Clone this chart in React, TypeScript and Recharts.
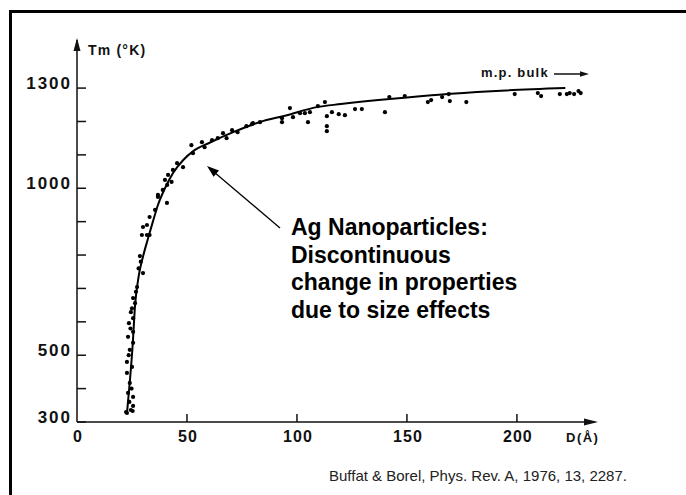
import { ComposedChart, Line, Scatter, XAxis, YAxis } from 'recharts';

// fitted curve (D in Å, Tm in K)
const curveD = [22.7, 24, 25.3, 26.4, 28, 30, 32.3, 34.5, 36.8, 40, 43.6, 48.2, 53, 60.5, 71, 83, 95, 109, 120, 137, 150, 170, 195, 222];
const curveT = [325, 420, 530, 650, 735, 795, 850, 900, 950, 1000, 1045, 1084, 1112, 1137, 1168, 1198, 1218, 1243, 1252, 1264, 1272, 1283, 1293, 1300];

// measured points
const pointD = [
  22.3, 24.5, 25.5, 23.2, 25.5, 24, 22.7, 25, 22.7, 24, 25.5, 23.2, 25.5, 23.6, 25.5, 24.5, 26.4, 22.7, 25.3, 23.8, 24.8, 23.5, 24.3, 25,
  25.5, 27.3, 28.6, 30, 29.5, 31.8, 33, 31.8, 33, 35.5, 36.8, 40.9, 39, 41, 43, 30, 26.8, 28, 29,
  36.8, 40, 41.4, 43.6, 45.5, 48.2, 52, 52.7, 56.8, 58, 61.4, 64, 66.4, 68, 70.5, 73, 77, 80,
  79.5, 83.2, 93.2, 93.2, 96.8, 98.2, 101.4, 103.6, 105, 105.9, 109.5, 112.7, 113.6, 113.6, 113.6, 115.9, 119, 121.8, 126.4, 129.5,
  140, 142, 149, 159.5, 161, 166, 169, 169.5, 177, 199, 209.5, 211, 219.5, 222.7, 224, 226, 228, 229,
];
const pointT = [
  330, 336, 348, 387, 375, 417, 447, 465, 480, 516, 537, 555, 570, 596, 611, 629, 656, 327, 333, 360, 400, 500, 580, 640,
  671, 704, 797, 746, 860, 860, 860, 890, 914, 935, 974, 956, 995, 1010, 1019, 884, 690, 760, 780,
  980, 1025, 1040, 1055, 1075, 1063, 1129, 1105, 1138, 1123, 1144, 1150, 1165, 1150, 1174, 1168, 1186, 1195,
  1192, 1198, 1198, 1210, 1240, 1213, 1225, 1225, 1198, 1228, 1246, 1258, 1216, 1186, 1171, 1228, 1222, 1219, 1237, 1237,
  1228, 1273, 1276, 1258, 1264, 1273, 1282, 1261, 1258, 1282, 1285, 1276, 1282, 1282, 1285, 1282, 1291, 1285,
];

const yTicks = [300, 400, 500, 600, 700, 800, 900, 1000, 1100, 1200, 1300];
const yLabels = [300, 500, 1000, 1300];
const xTicks = [0, 50, 100, 150, 200];

const curve = curveD.map((d, i) => ({ d, t: curveT[i] }));
const points = pointD.map((d, i) => ({ d, t: pointT[i] }));

const FONT = '"Liberation Sans", Arial, sans-serif';
const INK = '#111';

// plot box: margin + axis size
const M = { top: 40, right: 91, bottom: 43, left: 17 };
const Y_W = 60;
const X_H = 30;
const AXIS_X = M.left + Y_W;
const AXIS_Y = 495 - M.bottom - X_H;

function YTick(props: any) {
  const { y, payload } = props;
  return (
    <g>
      <line x1={AXIS_X} x2={AXIS_X + 9} y1={y} y2={y} stroke={INK} strokeWidth={1.5} />
      {yLabels.includes(payload.value) && (
        <text x={AXIS_X - 5} y={y + 1} textAnchor="end" fontFamily={FONT} fontWeight="bold" fontSize={17} letterSpacing={2} fill={INK}>
          {payload.value}
        </text>
      )}
    </g>
  );
}

function XTick(props: any) {
  const { x, payload } = props;
  return (
    <g>
      {payload.value !== 0 && <line x1={x} x2={x} y1={AXIS_Y} y2={AXIS_Y - 8} stroke={INK} strokeWidth={1.5} />}
      <text x={x + 1} y={AXIS_Y + 20} textAnchor="middle" fontFamily={FONT} fontWeight="bold" fontSize={16} letterSpacing={1} fill={INK}>
        {payload.value}
      </text>
    </g>
  );
}

const dot = (p: any) => <circle cx={p.cx} cy={p.cy} r={2.1} fill="#000" />;

export default function App() {
  return (
    <div style={{ position: 'absolute', left: 0, top: 0, width: 686, height: 495, overflow: 'hidden', background: '#fff' }}>
      <div style={{ position: 'absolute', left: 9, top: 10, width: 720, height: 520, borderLeft: '3px solid #000', borderTop: '3px solid #000' }} />
      <ComposedChart width={686} height={495} margin={M} style={{ position: 'absolute', left: 0, top: 0 }}>
        <XAxis
          type="number"
          dataKey="d"
          domain={[0, 235.5]}
          ticks={xTicks}
          height={X_H}
          tickSize={0}
          tickMargin={0}
          tick={XTick}
          axisLine={{ stroke: INK, strokeWidth: 1.5 }}
          allowDataOverflow
        />
        <YAxis
          type="number"
          dataKey="t"
          domain={[300, 1444]}
          ticks={yTicks}
          width={Y_W}
          tickSize={0}
          tickMargin={0}
          tick={YTick}
          interval={0}
          axisLine={{ stroke: INK, strokeWidth: 1.5 }}
          allowDataOverflow
        />
        <Scatter data={points} dataKey="t" shape={dot} isAnimationActive={false} />
        <Line data={curve} dataKey="t" type="monotone" stroke="#000" strokeWidth={2} dot={false} isAnimationActive={false} />
      </ComposedChart>
      <svg width={686} height={495} style={{ position: 'absolute', left: 0, top: 0, pointerEvents: 'none' }}>
        <polygon points="77,38 73.5,51 80.5,51" fill={INK} />
        <polygon points="598,422 584,418.5 584,425.5" fill={INK} />
        <text x={88} y={55} fontFamily={FONT} fontWeight="bold" fontSize={14} letterSpacing={1.2} fill={INK}>Tm (°K)</text>
        <text x={481} y={77} fontFamily={FONT} fontWeight="bold" fontSize={13} letterSpacing={1.2} fill={INK}>m.p. bulk</text>
        <line x1={554} x2={582} y1={74} y2={74} stroke={INK} strokeWidth={1.5} />
        <polygon points="589,74 580,71.3 580,76.7" fill={INK} />
        <text x={566} y={442} fontFamily={FONT} fontWeight="bold" fontSize={13} letterSpacing={1.5} fill={INK}>D(Å)</text>
        <line x1={280} y1={228} x2={214} y2={172} stroke="#000" strokeWidth={1.3} />
        <polygon points="207,166 219,170.6 213.6,176.8" fill="#000" />
        <g fontFamily={FONT} fontWeight="bold" fontSize={23} fill="#000">
          <text x={291} y={235}>Ag Nanoparticles:</text>
          <text x={291} y={263}>Discontinuous</text>
          <text x={291} y={290}>change in properties</text>
          <text x={291} y={318}>due to size effects</text>
        </g>
        <text x={329} y={481} fontFamily={FONT} fontSize={15} fill="#222">Buffat &amp; Borel, Phys. Rev. A, 1976, 13, 2287.</text>
      </svg>
    </div>
  );
}
